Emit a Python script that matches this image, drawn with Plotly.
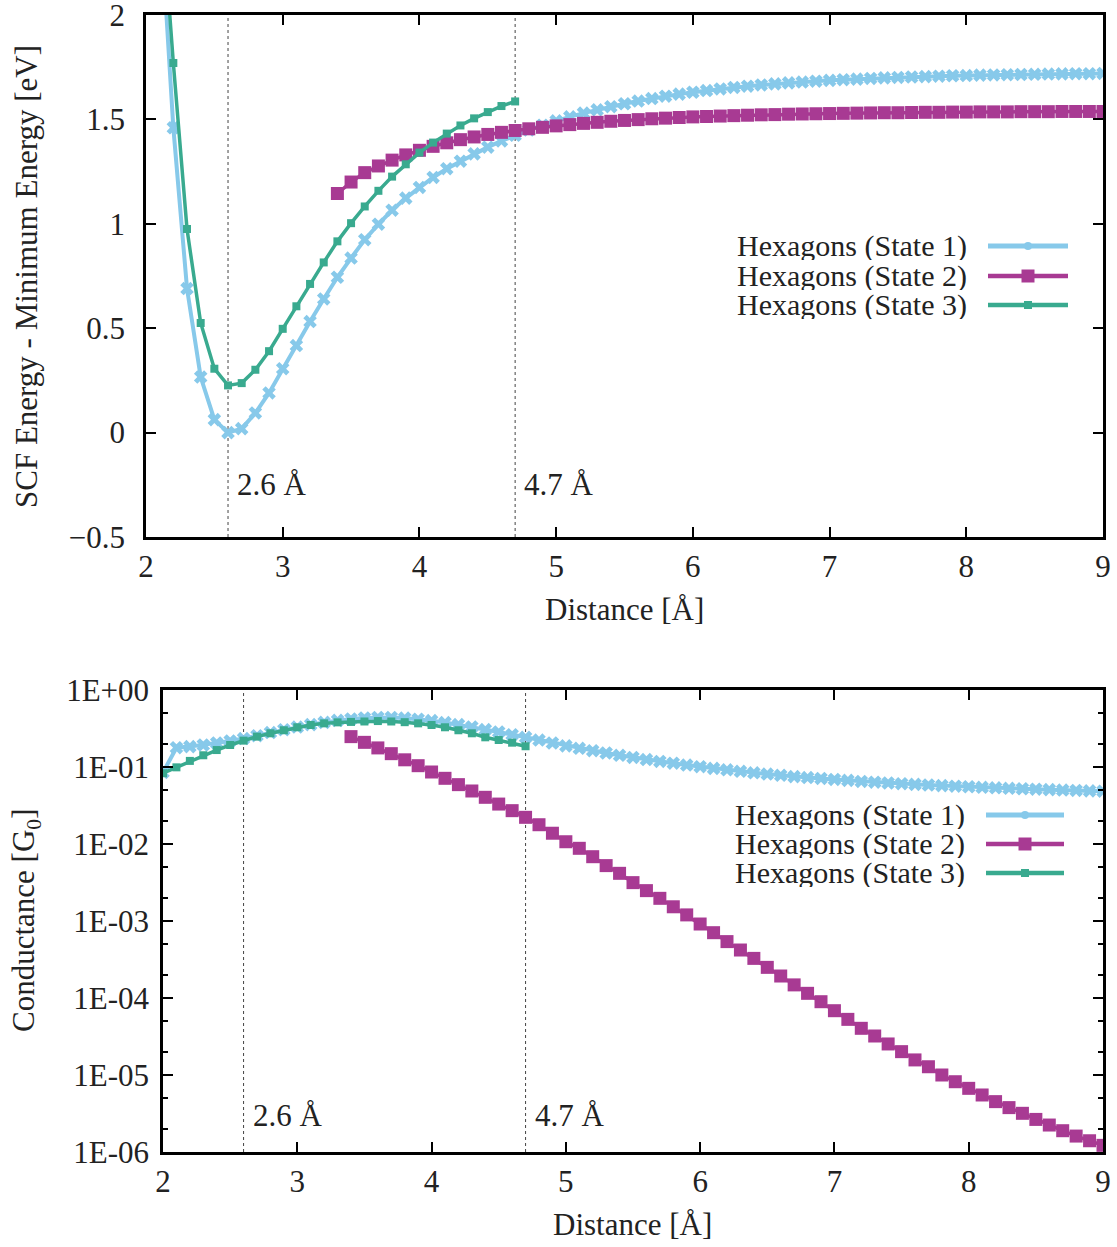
import plotly.graph_objects as go

# ---------------- data ----------------
x_state1 = [round(2.0 + 0.1 * i, 1) for i in range(71)]           # 2.0 .. 9.0
x_state2 = [round(3.4 + 0.1 * i, 1) for i in range(57)]           # 3.4 .. 9.0
x_state3 = [round(2.0 + 0.1 * i, 1) for i in range(28)]           # 2.0 .. 4.7

energy_state1 = [3.60, 2.55, 1.46, 0.69, 0.266, 0.062, 0.0, 0.019, 0.094, 0.19,
                 0.306, 0.417, 0.532, 0.64, 0.744, 0.836, 0.924, 0.998, 1.065, 1.123,
                 1.174, 1.222, 1.264, 1.30, 1.335, 1.367, 1.397, 1.424, 1.449, 1.472,
                 1.493, 1.512, 1.530, 1.546, 1.561, 1.575, 1.588, 1.600, 1.611, 1.621,
                 1.630, 1.638, 1.646, 1.653, 1.659, 1.665, 1.670, 1.675, 1.679, 1.683,
                 1.687, 1.690, 1.693, 1.696, 1.699, 1.701, 1.703, 1.705, 1.707, 1.709,
                 1.710, 1.712, 1.713, 1.714, 1.715, 1.716, 1.717, 1.718, 1.719, 1.719,
                 1.720]
energy_state2 = [1.145, 1.20, 1.245, 1.277, 1.305, 1.330, 1.352, 1.371, 1.388, 1.403,
                 1.416, 1.428, 1.438, 1.447, 1.455, 1.462, 1.469, 1.475, 1.481, 1.486,
                 1.491, 1.495, 1.499, 1.503, 1.506, 1.509, 1.512, 1.514, 1.516, 1.518,
                 1.520, 1.522, 1.523, 1.525, 1.526, 1.527, 1.528, 1.529, 1.530, 1.531,
                 1.532, 1.532, 1.533, 1.534, 1.534, 1.535, 1.535, 1.536, 1.536, 1.536,
                 1.537, 1.537, 1.537, 1.538, 1.538, 1.538, 1.538]
energy_state3 = [3.80, 2.65, 1.77, 0.975, 0.525, 0.306, 0.226, 0.237, 0.301, 0.39,
                 0.497, 0.605, 0.712, 0.815, 0.916, 1.003, 1.083, 1.158, 1.226, 1.285,
                 1.341, 1.389, 1.432, 1.471, 1.505, 1.535, 1.564, 1.586]

cond_state1 = [0.085, 0.178, 0.184, 0.193, 0.205, 0.218, 0.234, 0.255, 0.280, 0.305,
               0.330, 0.355, 0.380, 0.403, 0.420, 0.433, 0.440, 0.440, 0.432, 0.418,
               0.400, 0.378, 0.355, 0.331, 0.306, 0.285, 0.263, 0.243, 0.224, 0.205,
               0.188, 0.175, 0.163, 0.152, 0.142, 0.133, 0.125, 0.118, 0.112, 0.106,
               0.101, 0.096, 0.092, 0.088, 0.084, 0.081, 0.078, 0.075, 0.073, 0.071,
               0.069, 0.067, 0.065, 0.0635, 0.062, 0.0607, 0.0595, 0.0584, 0.0573, 0.0563,
               0.0554, 0.0545, 0.0537, 0.0529, 0.0522, 0.0515, 0.0508, 0.0502, 0.0496, 0.0490,
               0.0485]
cond_state2 = [0.248, 0.209, 0.177, 0.149, 0.124, 0.104, 0.0861, 0.0713, 0.0590, 0.0488,
               0.0404, 0.0330, 0.0271, 0.0222, 0.0178, 0.0138, 0.0107, 8.79e-3, 6.84e-3, 5.24e-3,
               4.16e-3, 3.15e-3, 2.48e-3, 1.97e-3, 1.53e-3, 1.20e-3, 9.14e-4, 7.05e-4, 5.40e-4, 4.20e-4,
               3.27e-4, 2.50e-4, 1.93e-4, 1.48e-4, 1.15e-4, 8.95e-5, 6.84e-5, 5.28e-5, 4.04e-5, 3.21e-5,
               2.53e-5, 2.01e-5, 1.57e-5, 1.28e-5, 1.00e-5, 8.18e-6, 6.71e-6, 5.50e-6, 4.51e-6, 3.77e-6,
               3.18e-6, 2.65e-6, 2.24e-6, 1.89e-6, 1.61e-6, 1.40e-6, 1.22e-6]
cond_state3 = [0.083, 0.099, 0.120, 0.142, 0.166, 0.193, 0.220, 0.248, 0.274, 0.300,
               0.328, 0.351, 0.369, 0.380, 0.385, 0.390, 0.395, 0.390, 0.382, 0.369,
               0.351, 0.328, 0.300, 0.274, 0.243, 0.224, 0.207, 0.186]

series_names = ["Hexagons (State 1)", "Hexagons (State 2)", "Hexagons (State 3)"]
marked_distances = [2.6, 4.7]
marked_labels = ["2.6 Å", "4.7 Å"]
cond_tickvals = [1, 1e-1, 1e-2, 1e-3, 1e-4, 1e-5, 1e-6]
cond_ticktext = ["1E+00", "1E-01", "1E-02", "1E-03", "1E-04", "1E-05", "1E-06"]

# ---------------- style ----------------
W, H = 1117, 1247
C1, C2, C3 = "#87c9ea", "#a83a93", "#39aa8f"
FONT = "Liberation Serif"
FS = 31
TXT = "#222"

def px(v):
    return v / W

def py(v):
    return 1 - v / H

top_x = [px(146), px(1103)]
top_y = [py(537), py(15)]
bot_x = [px(163), px(1103)]
bot_y = [py(1152), py(690)]

fig = go.Figure()

styles = [
    dict(color=C1, lw=4, sym="x", size=12),
    dict(color=C2, lw=3.5, sym="square", size=13),
    dict(color=C3, lw=3.5, sym="square", size=8),
]

def add(xs, ys, st, xa, ya):
    fig.add_trace(go.Scatter(
        x=xs, y=ys, mode="lines+markers", xaxis=xa, yaxis=ya, showlegend=False,
        line=dict(color=st["color"], width=st["lw"]),
        marker=dict(symbol=st["sym"], size=st["size"], color=st["color"],
                    line=dict(width=0)),
        cliponaxis=True))

# top panel
add(x_state1, energy_state1, styles[0], "x", "y")
add(x_state2, energy_state2, styles[1], "x", "y")
add(x_state3, energy_state3, styles[2], "x", "y")
# bottom panel
add(x_state1, cond_state1, styles[0], "x2", "y2")
add(x_state2, cond_state2, styles[1], "x2", "y2")
add(x_state3, cond_state3, styles[2], "x2", "y2")

axis_common = dict(
    showline=True, linecolor="black", linewidth=2.5, mirror="allticks",
    ticks="inside", ticklen=10, tickwidth=2, tickcolor="black",
    showgrid=False, zeroline=False, automargin=False, ticklabeloverflow="allow",
    tickfont=dict(family=FONT, size=FS, color=TXT),
)

fig.update_layout(
    width=W, height=H, margin=dict(l=0, r=0, t=0, b=0, autoexpand=False),
    plot_bgcolor="white", paper_bgcolor="white",
    font=dict(family=FONT, size=FS, color=TXT),
    xaxis=dict(domain=top_x, anchor="y", range=[2, 9], tickvals=[2, 3, 4, 5, 6, 7, 8, 9],
               ticklabelstandoff=0, **axis_common),
    yaxis=dict(domain=top_y, anchor="x", range=[-0.5, 2],
               tickvals=[-0.5, 0, 0.5, 1, 1.5, 2], ticktext=["−0.5", "0", "0.5", "1", "1.5", "2"],
               ticklabelstandoff=12, **axis_common),
    xaxis2=dict(domain=bot_x, anchor="y2", range=[2, 9], tickvals=[2, 3, 4, 5, 6, 7, 8, 9],
                ticklabelstandoff=0, **axis_common),
    yaxis2=dict(domain=bot_y, anchor="x2", type="log", range=[-6, 0], ticklabelstandoff=5,
                tickvals=cond_tickvals, ticktext=cond_ticktext, **axis_common,
                minor=dict(ticks="inside", ticklen=5, tickwidth=1.5, tickcolor="black",
                           dtick="D2", showgrid=False)),
)

# axis titles
def title(text, x, y, angle=0):
    fig.add_annotation(x=px(x), y=py(y), xref="paper", yref="paper", text=text,
                       showarrow=False, xanchor="center", yanchor="middle", textangle=angle,
                       font=dict(family=FONT, size=FS, color=TXT))

title("Distance [Å]", 624, 609)
title("Distance [Å]", 632, 1224)
title("SCF Energy - Minimum Energy [eV]", 26, 277, -90)
title("Conductance [G<sub>0</sub>]", 26, 921, -90)

# vertical dotted markers and their labels
for d, lab in zip(marked_distances, marked_labels):
    fig.add_shape(type="line", xref="x", yref="y domain", x0=d, x1=d, y0=0, y1=1,
                  line=dict(color="#444", width=1, dash="dot"), layer="below")
    fig.add_shape(type="line", xref="x2", yref="y2 domain", x0=d, x1=d, y0=0, y1=1,
                  line=dict(color="#444", width=1, dash="dot"), layer="below")
    fig.add_annotation(x=d, y=-0.25, xref="x", yref="y", text=lab, showarrow=False,
                       xanchor="left", xshift=7, font=dict(family=FONT, size=FS, color=TXT))
    fig.add_annotation(x=d, y=-5.52, xref="x2", yref="y2", text=lab, showarrow=False,
                       xanchor="left", xshift=7, font=dict(family=FONT, size=FS, color=TXT))

# legends (gnuplot style: text right-aligned, sample to the right)
def legend(text_right, sample_x0, sample_x1, rows):
    for (name, st, row) in zip(series_names, styles, rows):
        fig.add_annotation(x=px(text_right), y=py(row), xref="paper", yref="paper",
                           text=name, showarrow=False, xanchor="right", yanchor="middle",
                           height=28, borderpad=0,
                           font=dict(family=FONT, size=30, color=TXT))
        fig.add_shape(type="line", xref="paper", yref="paper",
                      x0=px(sample_x0), x1=px(sample_x1), y0=py(row), y1=py(row),
                      line=dict(color=st["color"], width=st["lw"] + 1))
        cx = (sample_x0 + sample_x1) / 2
        h = st["size"] / 2
        if st["sym"] == "square":
            fig.add_shape(type="rect", xref="paper", yref="paper",
                          x0=px(cx - h), x1=px(cx + h), y0=py(row + h), y1=py(row - h),
                          fillcolor=st["color"], line=dict(width=0))
        else:
            fig.add_shape(type="circle", xref="paper", yref="paper",
                          x0=px(cx - h + 2), x1=px(cx + h - 2), y0=py(row + h - 2), y1=py(row - h + 2),
                          fillcolor=st["color"], line=dict(width=0))

legend(968, 988, 1068, [246, 276, 305])
legend(966, 986, 1064, [815, 844, 873])

fig.write_html("out.html", config={"displayModeBar": False},
               post_script="document.body.style.margin='0';document.body.style.overflow='hidden';")
